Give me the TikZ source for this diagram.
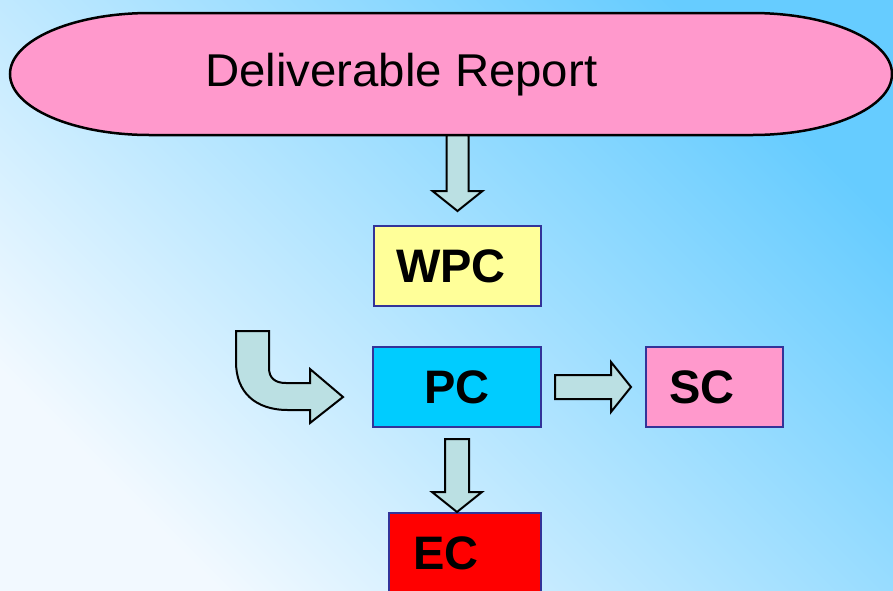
\documentclass[tikz,border=0pt]{standalone}
\usepackage{fontspec}
\setmainfont{Liberation Sans}
\usetikzlibrary{calc}
\definecolor{sky}{RGB}{102,204,255}
\definecolor{pale}{RGB}{242,249,255}
\definecolor{pinkf}{RGB}{255,153,204}
\definecolor{yel}{RGB}{255,255,153}
\definecolor{cyanf}{RGB}{0,204,255}
\definecolor{bord}{RGB}{51,51,153}
\definecolor{arrf}{RGB}{187,224,227}
\begin{document}
\begin{tikzpicture}[x=1pt,y=-1pt,
  boxstyle/.style={draw=bord, line width=2pt, minimum height=80pt, inner ysep=0pt,
    font=\bfseries\fontsize{47}{47}\selectfont, anchor=north west},
  leftbox/.style={boxstyle, align=left},
  barrow/.style={draw=black, line width=2pt, fill=arrf, line join=miter}]
\useasboundingbox (0,0) rectangle (893,590);
\shade[top color=sky, bottom color=pale, shading angle=-45] (0,0) rectangle (893,590);
% stadium outline
\draw[line width=2.5pt, fill=pinkf] (150,13) -- (752,13)
  arc[start angle=-90, end angle=90, x radius=140, y radius=61] -- (150,135)
  arc[start angle=90, end angle=270, x radius=140, y radius=61] -- cycle;
% nodes
\node[minimum width=882pt, minimum height=122pt, inner sep=0pt, anchor=north west,
  font=\fontsize{46}{46}\selectfont] (dr) at (10,13)
  {\raisebox{2.7pt}{\scalebox{1.03}[1]{Deliverable Report}}\kern100pt};
\node[leftbox, fill=yel, inner xsep=22pt, text width=123pt] (wpc) at (373,225) {WPC};
\node[boxstyle, fill=cyanf, minimum width=168pt, inner xsep=0pt] (pc) at (372,346) {PC};
\node[leftbox, fill=pinkf, inner xsep=23pt, text width=91pt] (sc) at (645,346) {SC};
\node[leftbox, fill=red, inner xsep=24pt, text width=104pt] (ec) at (388,512) {EC};
% block arrows
\draw[barrow] ($(wpc.north|-dr.south)+(-11,0)$) -- ($(wpc.north)+(-11,-34)$)
  -- ($(wpc.north)+(-25,-34)$) -- ($(wpc.north)+(0,-14)$) -- ($(wpc.north)+(25,-34)$)
  -- ($(wpc.north)+(11,-34)$) -- ($(wpc.north|-dr.south)+(11,0)$) -- cycle;
\draw[barrow] ($(pc.south)+(-12,11)$) -- ($(pc.south|-ec.north)+(-12,-20)$)
  -- ($(pc.south|-ec.north)+(-25,-20)$) -- (pc.south|-ec.north)
  -- ($(pc.south|-ec.north)+(25,-20)$) -- ($(pc.south|-ec.north)+(12,-20)$)
  -- ($(pc.south)+(12,11)$) -- cycle;
\draw[barrow] ($(pc.east)+(13,-12)$) -- ($(sc.west)+(-34,-12)$) -- ($(sc.west)+(-34,-25)$)
  -- ($(sc.west)+(-14,0)$) -- ($(sc.west)+(-34,25)$) -- ($(sc.west)+(-34,12)$)
  -- ($(pc.east)+(13,12)$) -- cycle;
\coordinate (cstart) at (236,331);
\draw[barrow] (cstart) -- (236,362) .. controls (236,392) and (255,410) .. (288,410)
  -- (310,410) -- (310,423) -- (343,397) -- (310,369) -- (310,383) -- (286,383)
  .. controls (275,383) and (269,378) .. (269,368) -- (269,331) -- cycle;
\end{tikzpicture}
\end{document}
